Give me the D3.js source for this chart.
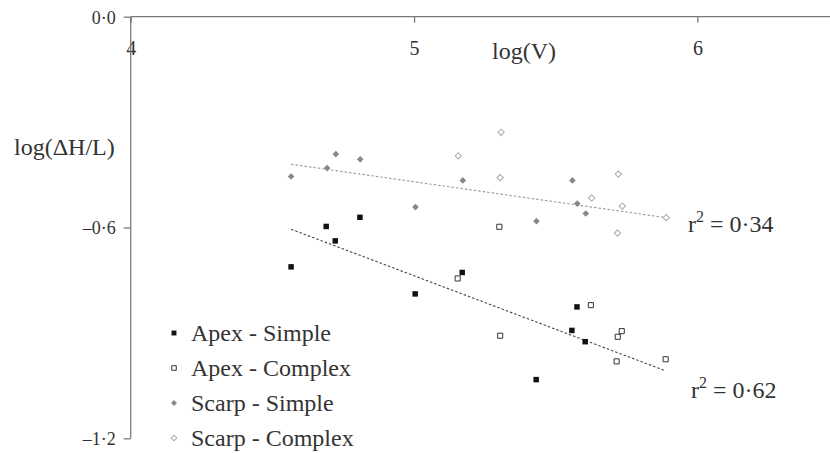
<!DOCTYPE html>
<meta charset="utf-8">
<style>
body { margin: 0; background: #fff; }
svg text { font-family: "Liberation Serif", "Times New Roman", serif; fill: #333; }
.axis path, .axis line { stroke: #7a7a7a; stroke-width: 1.3px; }
</style>
<body>
<script src="https://cdnjs.cloudflare.com/ajax/libs/d3/7.8.5/d3.min.js"></script>
<script>
// data: [log(V), log(dH/L)]
var apexSimple = [[4.566,-0.712],[4.690,-0.597],[4.722,-0.638],[4.809,-0.571],[5.004,-0.789],
                  [5.170,-0.728],[5.431,-1.033],[5.557,-0.893],[5.575,-0.826],[5.604,-0.925]];
var apexComplex = [[5.154,-0.745],[5.301,-0.598],[5.304,-0.908],[5.624,-0.821],
                   [5.719,-0.911],[5.733,-0.895],[5.715,-0.981],[5.888,-0.975]];
var scarpSimple = [[4.566,-0.455],[4.693,-0.431],[4.724,-0.391],[4.810,-0.406],[5.005,-0.542],
                   [5.172,-0.466],[5.432,-0.582],[5.559,-0.466],[5.576,-0.532],[5.606,-0.560]];
var scarpComplex = [[5.156,-0.396],[5.307,-0.329],[5.304,-0.458],[5.627,-0.516],
                    [5.721,-0.448],[5.735,-0.539],[5.718,-0.616],[5.890,-0.572]];
// trend lines (end points)
var scarpTrend = [[4.566,-0.420],[5.890,-0.572]];
var apexTrend = [[4.566,-0.605],[5.888,-1.008]];
var xTicks = [4, 5, 6];
var yTicks = [0, -0.6, -1.2];
var legendLabels = ["Apex - Simple", "Apex - Complex", "Scarp - Simple", "Scarp - Complex"];
var r2Labels = ["0·34", "0·62"];

var width = 830, height = 453;
var x = d3.scaleLinear().domain([4, 6.468]).range([130.7, 830]);
var y = d3.scaleLinear().domain([-1.2, 0]).range([438.3, 16.7]);

var svg = d3.select("body").append("svg")
    .attr("width", width)
    .attr("height", height);

// x axis along the top (y = 0)
var xAxis = svg.append("g")
    .attr("class", "axis")
    .attr("font-family", "Liberation Serif")
    .attr("transform", "translate(0," + y(0) + ")")
    .call(d3.axisBottom(x).tickValues(xTicks).tickSize(6).tickSizeOuter(0).tickFormat(d3.format("d")));
xAxis.selectAll("text")
    .attr("y", 0).attr("dy", null)
    .attr("transform", "translate(0,38)")
    .style("font-size", "20px");
xAxis.select("path").attr("d", "M" + x(4) + ",0H830");

// y axis
var yAxis = svg.append("g")
    .attr("class", "axis")
    .attr("font-family", "Liberation Serif")
    .attr("transform", "translate(" + x(4) + ",0)")
    .call(d3.axisLeft(y).tickValues(yTicks).tickSize(7).tickSizeOuter(0)
      .tickFormat(function(d) { return d3.format(".1f")(d).replace("−", "–").replace(".", "·"); }));
yAxis.selectAll("text")
    .attr("x", -15)
    .attr("dy", "0.35em")
    .style("font-size", "18px");
yAxis.selectAll(".domain").attr("d", "M0," + y(0) + "V" + y(-1.2));

// axis titles
svg.append("text").attr("x", 492).attr("y", 59).style("font-size", "24px").text("log(V)");
svg.append("text").attr("x", 14).attr("y", 155).style("font-size", "24px").text("log(ΔH/L)");

// trend lines
var line = d3.line().x(function(d) { return x(d[0]); }).y(function(d) { return y(d[1]); });
svg.append("path").datum(scarpTrend).attr("d", line)
    .attr("fill", "none").attr("stroke", "#999").attr("stroke-width", 1.1).attr("stroke-dasharray", "2.5,2");
svg.append("path").datum(apexTrend).attr("d", line)
    .attr("fill", "none").attr("stroke", "#444").attr("stroke-width", 1.1).attr("stroke-dasharray", "2.5,2");

// marker styles
var styles = [
  {data: apexSimple, rot: 0, size: 30, fill: "#111", stroke: "none"},
  {data: apexComplex, rot: 0, size: 26, fill: "#fff", stroke: "#333"},
  {data: scarpSimple, rot: 45, size: 22, fill: "#888", stroke: "none"},
  {data: scarpComplex, rot: 45, size: 20, fill: "#fff", stroke: "#aaa"}
];

styles.forEach(function(s) {
  svg.append("g").selectAll("path")
      .data(s.data)
    .enter().append("path")
      .attr("d", d3.symbol().type(d3.symbolSquare).size(s.size))
      .attr("transform", function(d) { return "translate(" + x(d[0]) + "," + y(d[1]) + ") rotate(" + s.rot + ")"; })
      .attr("fill", s.fill)
      .attr("stroke", s.stroke)
      .attr("stroke-width", 1);
});

// r^2 labels
[[688, 232, r2Labels[0]], [691, 398, r2Labels[1]]].forEach(function(r) {
  var t = svg.append("text").attr("x", r[0]).attr("y", r[1]).style("font-size", "24px");
  t.append("tspan").text("r");
  t.append("tspan").attr("dy", -10).style("font-size", "16px").text("2");
  t.append("tspan").attr("dy", 10).text(" = " + r[2]);
});

// legend
var legend = svg.append("g").attr("transform", "translate(174,0)");
legendLabels.forEach(function(lab, i) {
  var s = styles[i], cy = 333 + i * 35;
  legend.append("path")
      .attr("d", d3.symbol().type(d3.symbolSquare).size(s.size * 0.8))
      .attr("transform", "translate(0," + cy + ") rotate(" + s.rot + ")")
      .attr("fill", s.fill).attr("stroke", s.stroke);
  legend.append("text")
      .attr("x", 17).attr("y", cy + 8)
      .style("font-size", "24px")
      .text(lab);
});
</script>
</body>
